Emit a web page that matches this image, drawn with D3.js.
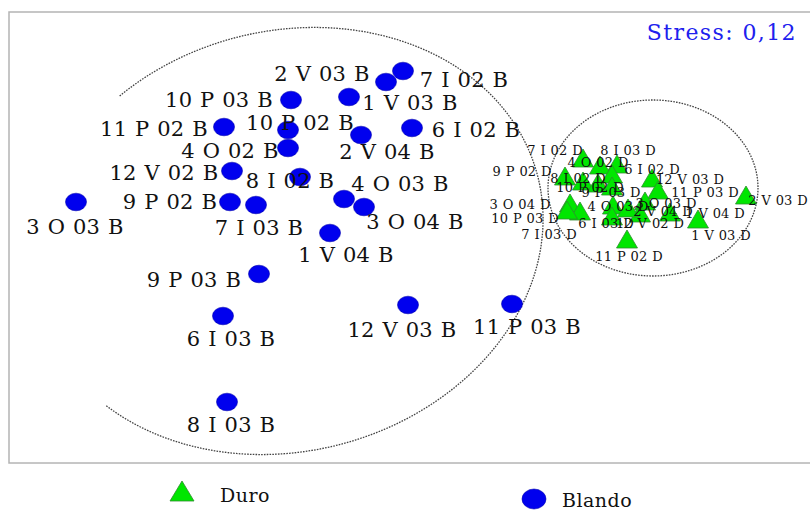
<!DOCTYPE html>
<html>
<head>
<meta charset="utf-8">
<script src="https://cdn.jsdelivr.net/npm/d3@7"></script>
<style>
  body { margin: 0; background: #fff; }
  text { font-family: "DejaVu Serif", serif; }
</style>
</head>
<body>
<div id="chart"></div>
<script>
// MDS configuration, two groups: B (blando) and D (duro)
var blandoLabels = ["2 V 03 B", "7 I 02 B", "10 P 03 B", "1 V 03 B", "11 P 02 B", "10 P 02 B",
  "6 I 02 B", "2 V 04 B", "4 O 02 B", "12 V 02 B", "8 I 02 B", "4 O 03 B", "3 O 04 B",
  "9 P 02 B", "7 I 03 B", "3 O 03 B", "1 V 04 B", "9 P 03 B", "6 I 03 B", "12 V 03 B",
  "11 P 03 B", "8 I 03 B"];
var blandoX = [-0.115, -0.03, -0.59, -0.30, -0.925, -0.605, 0.015, -0.24, -0.605, -0.885, -0.545,
  -0.325, -0.225, -0.895, -0.765, -1.665, -0.395, -0.75, -0.93, -0.005, 0.515, -0.91];
var blandoY = [0.78, 0.835, 0.69, 0.705, 0.555, 0.54, 0.55, 0.515, 0.45, 0.335, 0.305,
  0.195, 0.155, 0.18, 0.165, 0.18, 0.025, -0.18, -0.39, -0.335, -0.33, -0.82];

var duroLabels = ["7 I 02 D", "8 I 03 D", "4 O 02 D", "9 P 02 D", "8 I 02 D", "6 I 02 D",
  "10 P 02 D", "9 P 03 D", "12 V 03 D", "11 P 03 D", "2 V 03 D", "3 O 04 D", "10 P 03 D",
  "7 I 03 D", "4 O 03 D", "3 O 03 D", "1 V 04 D", "12 V 02 D", "6 I 03 D", "2 V 04 D",
  "1 V 03 D", "11 P 02 D"];
var duroX = [0.87, 1.04, 0.955, 0.78, 0.87, 1.015, 0.945, 1.015, 1.215, 1.245, 1.685, 0.805,
  0.855, 0.79, 1.02, 1.18, 1.305, 1.155, 1.015, 1.095, 1.445, 1.09];
var duroY = [0.39, 0.36, 0.355, 0.30, 0.275, 0.31, 0.265, 0.25, 0.29, 0.23, 0.205, 0.165,
  0.125, 0.13, 0.155, 0.175, 0.12, 0.115, 0.10, 0.14, 0.085, -0.015];

var stress = "0,12";
var legendNames = ["Duro", "Blando"];

// label placement (pixels, relative to the point; text centred)
var blandoLabelPos = [[-64,-1],[61,16],[-72,7],[61,13],[-70,9],[12,0],[64,9],[26,24],[-58,10],
  [-68,9],[-10,11],[56,-8],[51,22],[-60,7],[3,30],[-1,32],[16,29],[-65,13],[8,30],[-6,32],
  [15,30],[4,30]];
var duroLabelPos = [[-28,-5],[11,-11],[-2,0],[-43,-2],[-5,0],[40,-2],[-8,7],[-1,9],[38,4],
  [47,5],[32,8],[-50,4],[-55,10],[-18,27],[5,4],[21,5],[45,4],[10,13],[-6,10],[35,6],
  [23,19],[2,20]];

// group outlines (data units): centre, radii, rotation (deg), arc span (deg)
var hullBlando = {cx: -0.605, cy: -0.015, rx: 1.29, ry: 1.05, rot: -15, t0: -119, t1: 148};
var hullDuro = {cx: 1.22, cy: 0.25, rx: 0.525, ry: 0.44, rot: 0, t0: 0, t1: 360};

var W = 810, H = 512;
var svg = d3.select("#chart").append("svg")
  .attr("width", W).attr("height", H);

var x = d3.scaleLinear().domain([-2, 2]).range([9, 809]);
var y = d3.scaleLinear().domain([-1.125, 1.125]).range([463, 13]);

// frame
svg.append("rect")
  .attr("x", x(-2)).attr("y", y(1.125) - 1)
  .attr("width", 820).attr("height", y(-1.125) - y(1.125) + 1)
  .attr("fill", "none").attr("stroke", "#b4b4b4").attr("stroke-width", 1.5);

function hullPath(h) {
  var cx = x(h.cx), cy = y(h.cy);
  var a = x(h.cx + h.rx) - cx, b = y(h.cy) - y(h.cy + h.ry);
  var phi = h.rot * Math.PI / 180;
  var pts = d3.range(h.t0, h.t1 + 0.5, 1).map(function(t) {
    var r = t * Math.PI / 180;
    var u = a * Math.cos(r), v = b * Math.sin(r);
    return [cx + u * Math.cos(phi) - v * Math.sin(phi), cy + u * Math.sin(phi) + v * Math.cos(phi)];
  });
  return d3.line()(pts);
}

[hullBlando, hullDuro].forEach(function(h) {
  svg.append("path")
    .attr("d", hullPath(h))
    .attr("fill", "none")
    .attr("stroke", "#444")
    .attr("stroke-width", 1.3)
    .attr("stroke-dasharray", "1.6,1.2");
});

var blando = blandoLabels.map(function(l, i) { return {label: l, x: blandoX[i], y: blandoY[i], pos: blandoLabelPos[i]}; });
var duro = duroLabels.map(function(l, i) { return {label: l, x: duroX[i], y: duroY[i], pos: duroLabelPos[i]}; });

var triangle = "M0,-11L10.5,7L-10.5,7Z";

svg.append("g").selectAll("ellipse")
  .data(blando).enter().append("ellipse")
  .attr("cx", function(d) { return x(d.x); })
  .attr("cy", function(d) { return y(d.y); })
  .attr("rx", 10.5).attr("ry", 8.8)
  .attr("fill", "#0000ee").attr("stroke", "#0000b0").attr("stroke-width", 0.6);

svg.append("g").selectAll("text")
  .data(blando).enter().append("text")
  .attr("x", function(d) { return x(d.x) + d.pos[0]; })
  .attr("y", function(d) { return y(d.y) + d.pos[1]; })
  .attr("text-anchor", "middle")
  .attr("font-size", "21px")
  .attr("letter-spacing", "0.2px")
  .attr("word-spacing", "1px")
  .attr("fill", "#111")
  .text(function(d) { return d.label; });

svg.append("g").selectAll("path")
  .data(duro).enter().append("path")
  .attr("d", triangle)
  .attr("transform", function(d) { return "translate(" + x(d.x) + "," + y(d.y) + ")"; })
  .attr("fill", "#00e600").attr("stroke", "#2e8b2e").attr("stroke-width", 0.8);

svg.append("g").selectAll("text")
  .data(duro).enter().append("text")
  .attr("x", function(d) { return x(d.x) + d.pos[0]; })
  .attr("y", function(d) { return y(d.y) + d.pos[1]; })
  .attr("text-anchor", "middle")
  .attr("font-size", "13px")
  .attr("letter-spacing", "0.1px")
  .attr("word-spacing", "0.6px")
  .attr("fill", "#111")
  .text(function(d) { return d.label; });

// stress
svg.append("text")
  .attr("x", 797).attr("y", 40)
  .attr("text-anchor", "end")
  .attr("font-size", "22px")
  .attr("letter-spacing", "1.4px")
  .attr("fill", "#2020ee")
  .text("Stress: " + stress);

// legend
var leg = svg.append("g");
leg.append("path").attr("d", "M0,-11L12,9L-12,9Z")
  .attr("transform", "translate(182,492)")
  .attr("fill", "#00e600").attr("stroke", "#2e8b2e").attr("stroke-width", 0.8);
leg.append("text").attr("x", 220).attr("y", 502).attr("font-size", "19px")
  .attr("letter-spacing", "0.5px").attr("fill", "#111").text(legendNames[0]);
leg.append("ellipse").attr("cx", 534).attr("cy", 499).attr("rx", 12).attr("ry", 10)
  .attr("fill", "#0000ee").attr("stroke", "#0000b0").attr("stroke-width", 0.6);
leg.append("text").attr("x", 562).attr("y", 507).attr("font-size", "19px")
  .attr("letter-spacing", "0.5px").attr("fill", "#111").text(legendNames[1]);
</script>
</body>
</html>
